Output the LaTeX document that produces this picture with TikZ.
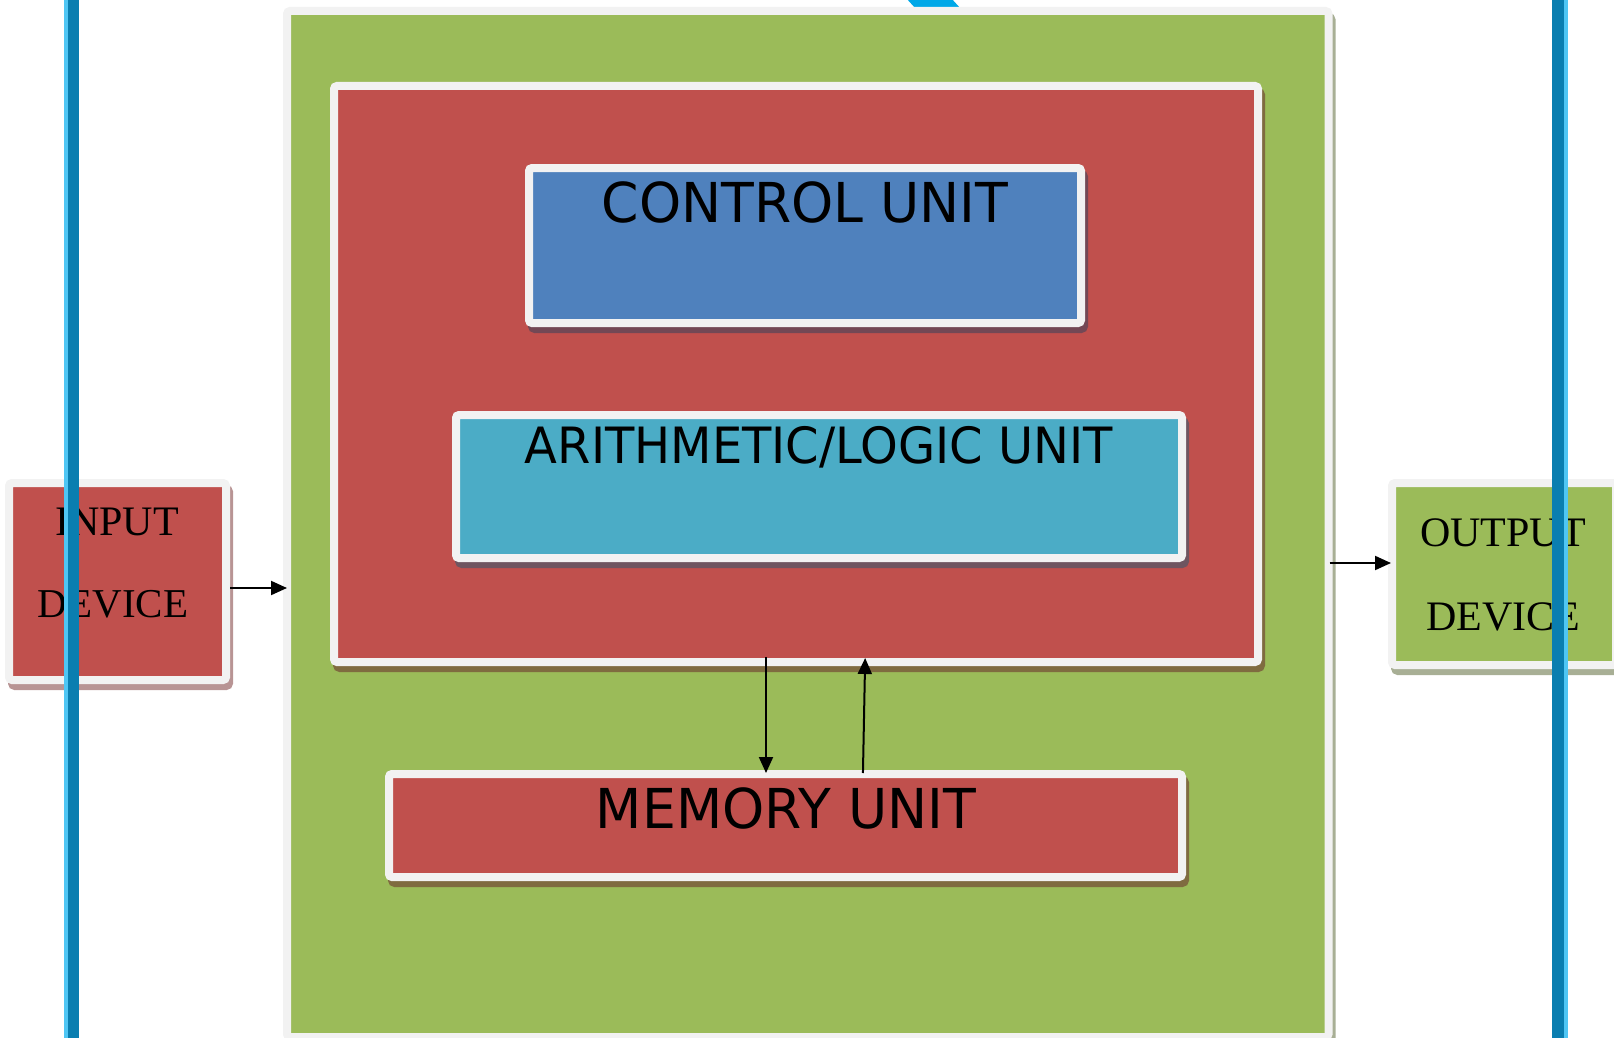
\documentclass[tikz,border=0pt]{standalone}
\usepackage{fontspec}
\setmainfont{Liberation Serif}
\newfontfamily\dvsans[FakeStretch=0.975]{DejaVu Sans}
\newfontfamily\dvsansn[FakeStretch=0.96]{DejaVu Sans}
\usetikzlibrary{arrows.meta,shadows}
\definecolor{bord}{HTML}{F2F2F2}
\definecolor{grn}{HTML}{9BBB59}
\definecolor{rd}{HTML}{C0504D}
\definecolor{cublue}{HTML}{4F81BD}
\definecolor{alublue}{HTML}{4BACC6}
\definecolor{barlight}{HTML}{4FC6F4}
\definecolor{bardark}{HTML}{0A7EB0}
\definecolor{topcyan}{HTML}{00A8E8}
\definecolor{shWhiteRed}{HTML}{B89494}
\definecolor{shWhiteGrn}{HTML}{A8AF95}
\definecolor{shGrn}{HTML}{7F6B40}
\definecolor{shRedBlue}{HTML}{734855}
\definecolor{shRedCyan}{HTML}{6E5560}
\begin{document}
\begin{tikzpicture}[x=1pt,y=-1pt,
  box/.style={draw=bord, line width=8pt, rounded corners=3pt, inner sep=0pt},
  shad/.style={general shadow={fill=#1, draw=#1, line width=8pt, shadow xshift=3pt, shadow yshift=-6pt}},
  sanslbl/.style={font=\dvsans\fontsize{55}{60}\selectfont, inner sep=0pt, anchor=base},
  seriflbl/.style={font=\fontsize{42}{48}\selectfont, inner sep=0pt, anchor=base},
  arr/.style={line width=2pt, -{Triangle[length=16pt,width=14pt]}}
]
\useasboundingbox (0,0) rectangle (1614,1038);
% top cyan fragment
\fill[topcyan] (906,-2) -- (951,-2) -- (961,9) -- (916,9) -- cycle;
% system box
\node[box, fill=grn, shad=shWhiteGrn, minimum width=1041.5pt, minimum height=1026pt] (sys) at (807.75,524) {};
% cpu box
\node[box, fill=rd, shad=shGrn, minimum width=924pt, minimum height=576pt] (cpu) at (796,374) {};
% control unit
\node[box, fill=cublue, shad=shRedBlue, minimum width=552pt, minimum height=155pt] (cu) at (805,245.5) {};
\node[sanslbl] (cut) at (805,222.5) {CONTROL UNIT};
% ALU
\node[box, fill=alublue, shad=shRedCyan, minimum width=726pt, minimum height=143pt] (alu) at (819,486.5) {};
\node[sanslbl, font=\dvsansn\fontsize{50}{56}\selectfont] (alut) at (819,463) {ARITHMETIC/LOGIC UNIT};
% memory
\node[box, fill=rd, shad=shGrn, minimum width=793pt, minimum height=103pt] (mem) at (785.5,825.5) {};
\node[sanslbl] (memt) at (786,828) {MEMORY UNIT};
% input device
\node[box, fill=rd, shad=shWhiteRed, minimum width=217pt, minimum height=197pt] (inbox) at (117.5,581.5) {};
\node[seriflbl] (int1) at (117,535) {INPUT};
\node[seriflbl, font=\fontsize{41}{48}\selectfont] (int2) at (113,617) {DEVICE};
% output device
\node[box, fill=grn, shad=shWhiteGrn, minimum width=224pt, minimum height=182pt] (outbox) at (1504,574) {};
\node[seriflbl] (outt1) at (1503,546.7) {OUTPUT};
\node[seriflbl] (outt2) at (1503,630.7) {DEVICE};
% connectors
\draw[arr, shorten >=-4pt] ([yshift=-6.5pt]inbox.east) coordinate (s1) -- (s1 -| sys.west);
\draw[arr, shorten <=-3pt, shorten >=-3pt] ([yshift=-39pt]sys.east) coordinate (s2) -- (s2 -| outbox.west);
\draw[arr, shorten <=-9pt, shorten >=-3pt] ([xshift=-30pt]cpu.south) coordinate (s3) -- (s3 |- mem.north);
\draw[arr, shorten <=-3pt, shorten >=-8pt] ([xshift=77.5pt]mem.north) -- ([xshift=69pt]cpu.south);
% blue vertical bars
\fill[bardark] (68,0) rectangle (79,1038);
\fill[barlight] (64,0) rectangle (68,1038);
\fill[bardark] (1552,0) rectangle (1564,1038);
\fill[barlight] (1564,0) rectangle (1568,1038);
\end{tikzpicture}
\end{document}
